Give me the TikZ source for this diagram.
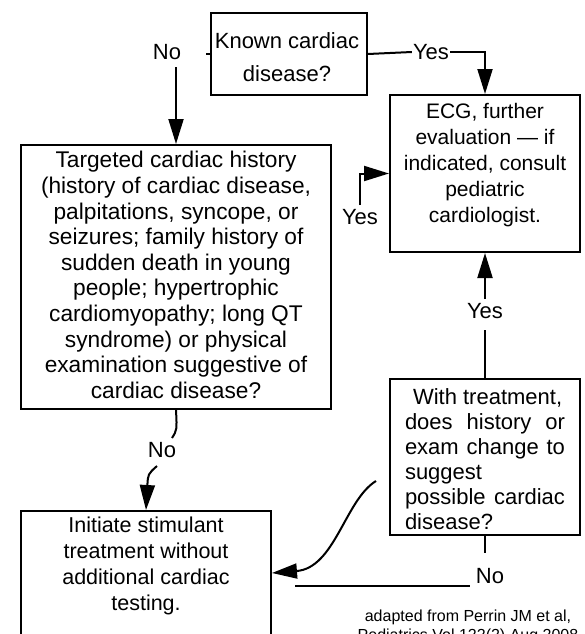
\documentclass[tikz,border=0pt]{standalone}
\usepackage{fontspec}
\setmainfont{Liberation Sans}
\usetikzlibrary{arrows.meta}
\begin{document}
\begin{tikzpicture}[x=1pt,y=-1pt,
  box/.style={draw, line width=2pt, rectangle, inner sep=0pt},
  txt/.style={align=center, inner sep=0pt, font=\fontsize{22.7}{25.6}\selectfont},
  lbl/.style={inner xsep=1pt, inner ysep=4pt, font=\fontsize{22}{25}\selectfont},
  conn/.style={line width=2pt},
  arr/.style={line width=2pt, -{Triangle[length=25pt,width=15pt]}},
]
\useasboundingbox (0,0) rectangle (585,634);
\fill[white] (0,0) rectangle (585,634);

% boxes
\node[box, minimum width=156pt, minimum height=82pt] (known) at (289,54) {};
\node[txt, font=\fontsize{22}{33}\selectfont] (knownt) at (287,57) {Known cardiac\\disease?};

\node[box, minimum width=190pt, minimum height=157pt] (ecg) at (485,173.5) {};
\node[txt, font=\fontsize{21}{26}\selectfont] (ecgt) at (485,165) {ECG, further\\evaluation --- if\\indicated, consult\\pediatric\\cardiologist.};

\node[box, minimum width=310pt, minimum height=264pt] (targ) at (176,277) {};
\node[txt] (targt) at (176,275) {Targeted cardiac history\\(history of cardiac disease,\\palpitations, syncope, or\\seizures; family history of\\sudden death in young\\people; hypertrophic\\cardiomyopathy; long QT\\syndrome) or physical\\examination suggestive of\\cardiac disease?};

\node[box, minimum width=190pt, minimum height=156pt] (with) at (485,457) {};
\node[inner sep=0pt, font=\fontsize{22}{25}\selectfont] (witht) at (485,459) {\parbox{160pt}{\hspace*{8pt}With treatment,\\does\hfill history\hfill or\\exam\hfill change\hfill to\\suggest\\possible\hfill cardiac\\disease?}};

\node[box, minimum width=250pt, minimum height=149pt] (init) at (146,585.5) {};
\node[txt, font=\fontsize{21.5}{26}\selectfont] (initt) at (146,566) {Initiate stimulant\\treatment without\\additional cardiac\\testing.};

% labels
\node[lbl] (noA) at (167,52) {No};
\node[lbl] (yesA) at (431,52) {Yes};
\node[lbl] (yesB) at (360,217) {Yes};
\node[lbl] (yesC) at (485,311) {Yes};
\node[lbl] (noB) at (162,450) {No};
\node[lbl] (noC) at (490,576) {No};

% coordinates for free ends
\coordinate (tick) at (206,54);
\coordinate (noAend) at (176,67);
\coordinate (noBtop) at (172,438);
\coordinate (noBbot) at (157,466);
\coordinate (noCtop) at (485,553);
\coordinate (hA) at (295,586);
\coordinate (hB) at (470,586);
\coordinate (cA) at (376,481);
\coordinate (cTip) at (272,573);

% connectors
\draw[conn] (known.west) -- (tick);
\draw[arr] (noAend) -- (targ.north);
\draw[conn] (known.east) -- (yesA.west);
\draw[arr] (yesA.east) -| (ecg.north);
\draw[arr] (yesB.north) |- (ecg.west);
\draw[conn] (with.north) -- ([yshift=-7pt]yesC.south);
\draw[arr] (yesC.north) -- (ecg.south);
\draw[conn] (targ.south) .. controls (177,430) .. (noBtop);
\draw[arr] (noBbot) .. controls (148,474) .. (init.north);
\draw[conn] (with.south) -- (noCtop);
\draw[conn] (hA) -- (hB);
\draw[arr] (cA) .. controls (345,500) and (335,568) .. (cTip);

% source
\node[align=center, inner sep=0pt, font=\fontsize{16}{19}\selectfont] (src) at (468,626.5) {adapted from Perrin JM et al,\\Pediatrics Vol 122(2) Aug 2008};
\end{tikzpicture}
\end{document}
